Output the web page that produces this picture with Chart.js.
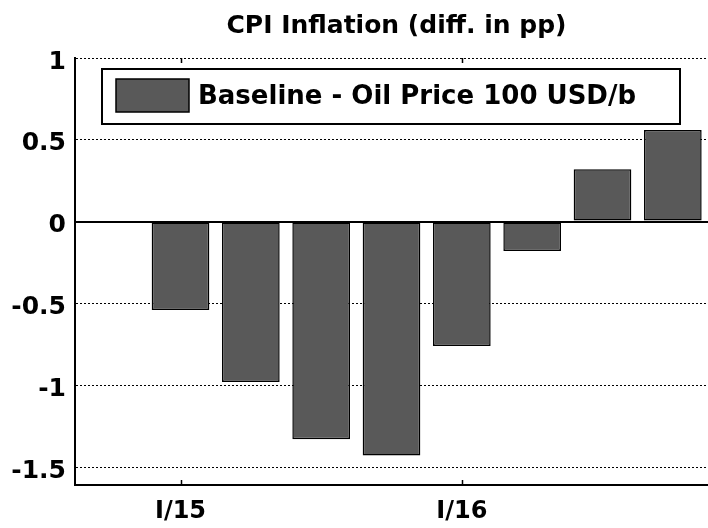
<!DOCTYPE html>
<html>
<head>
<meta charset="utf-8">
<script src="https://cdn.jsdelivr.net/npm/chart.js@4.4.1/dist/chart.umd.min.js"></script>
<style>
  html, body { margin: 0; padding: 0; background: #fff; }
  #wrap { width: 708px; height: 528px; }
</style>
</head>
<body>
<div id="wrap"><canvas id="c" width="708" height="528"></canvas></div>
<script>
// Quarterly difference in CPI inflation, baseline vs. oil price scenario
const quarters = ['IV/14', 'I/15', 'II/15', 'III/15', 'IV/15', 'I/16', 'II/16', 'III/16', 'IV/16'];
const cpiDiff = [null, -0.54, -0.98, -1.33, -1.43, -0.76, -0.18, 0.32, 0.56];
const yTicks = [1, 0.5, 0, -0.5, -1, -1.5];
const labelledQuarters = ['I/15', 'I/16'];
const seriesLabel = 'Baseline - Oil Price 100 USD/b';
const chartTitle = 'CPI Inflation (diff. in pp)';

const FONT = '"DejaVu Sans", sans-serif';
const BAR_FILL = '#595959';

// Title, y tick labels, inward tick marks and the boxed legend
const decorations = {
  id: 'decorations',
  afterDraw(chart) {
    const { ctx, chartArea: a, scales } = chart;
    ctx.save();

    // title
    ctx.fillStyle = '#000';
    ctx.font = 'bold 25px ' + FONT;
    ctx.textAlign = 'center';
    ctx.textBaseline = 'alphabetic';
    ctx.fillText(chartTitle, (a.left + a.right) / 2 + 5, 33);

    // y tick labels, sitting slightly below their grid lines
    ctx.textAlign = 'right';
    ctx.textBaseline = 'middle';
    scales.y.ticks.forEach(t => {
      ctx.fillText(String(t.value), a.left - 9, scales.y.getPixelForValue(t.value) + 4);
    });

    // inward tick marks at labelled quarters
    ctx.strokeStyle = '#000';
    ctx.lineWidth = 1.5;
    labelledQuarters.forEach(q => {
      const x = Math.round(scales.x.getPixelForValue(quarters.indexOf(q))) + 0.5;
      ctx.beginPath();
      ctx.moveTo(x, a.bottom);
      ctx.lineTo(x, a.bottom - 5);
      ctx.moveTo(x, a.top);
      ctx.lineTo(x, a.top + 5);
      ctx.stroke();
    });

    // legend box
    const ds = chart.data.datasets[0];
    const bx = a.left + 27, by = a.top + 11, bw = 578, bh = 55;
    ctx.fillStyle = '#fff';
    ctx.fillRect(bx, by, bw, bh);
    ctx.lineWidth = 2;
    ctx.strokeStyle = '#000';
    ctx.strokeRect(bx, by, bw, bh);
    ctx.fillStyle = ds.backgroundColor;
    ctx.fillRect(bx + 14, by + 10, 73, 33);
    ctx.lineWidth = 1.5;
    ctx.strokeRect(bx + 14, by + 10, 73, 33);
    ctx.fillStyle = '#000';
    ctx.font = 'bold 26px ' + FONT;
    ctx.textAlign = 'left';
    ctx.textBaseline = 'middle';
    ctx.fillText(ds.label, bx + 96, by + bh / 2 + 1);

    ctx.restore();
  }
};

new Chart(document.getElementById('c'), {
  type: 'bar',
  data: {
    labels: quarters,
    datasets: [{
      label: seriesLabel,
      data: cpiDiff,
      backgroundColor: BAR_FILL,
      borderColor: '#000',
      borderWidth: 1.5,
      borderSkipped: false,
      barPercentage: 0.82,
      categoryPercentage: 1
    }]
  },
  options: {
    responsive: false,
    animation: false,
    devicePixelRatio: 1,
    layout: { padding: { top: 58, right: 0, left: 0, bottom: 0 } },
    plugins: {
      legend: { display: false },
      title: { display: false },
      tooltip: { enabled: false }
    },
    scales: {
      x: {
        offset: true,
        grid: { display: false, drawTicks: false },
        border: { display: true, color: '#000', width: 2 },
        ticks: {
          autoSkip: false,
          maxRotation: 0,
          padding: 12,
          color: '#000',
          font: { family: FONT, size: 24, weight: 'bold' },
          callback(v, i) {
            const q = quarters[i];
            return labelledQuarters.includes(q) ? q : '';
          }
        },
        afterFit(s) { s.height = 43; }
      },
      y: {
        min: -1.61,
        max: 1,
        z: 1,
        afterBuildTicks(s) { s.ticks = yTicks.map(v => ({ value: v })); },
        grid: {
          color: '#000',
          lineWidth: c => (c.tick && c.tick.value === 0 ? 2 : 1),
          drawTicks: false
        },
        border: {
          display: true,
          color: '#000',
          width: 2,
          dash: c => (c.tick && c.tick.value !== 0 ? [2, 2] : [])
        },
        ticks: { display: false },
        afterFit(s) { s.width = 75; }
      }
    }
  },
  plugins: [decorations]
});
</script>
</body>
</html>
